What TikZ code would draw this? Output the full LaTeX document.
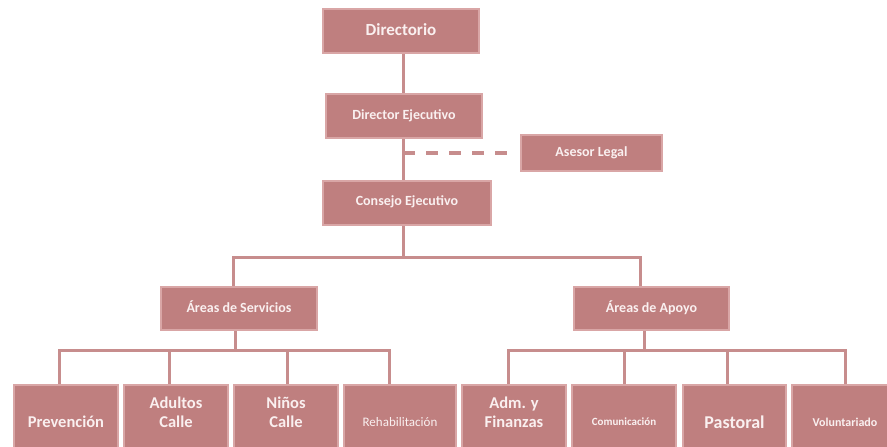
\documentclass[tikz,border=0pt]{standalone}
\usepackage{fontspec}
\setmainfont{Carlito}
\definecolor{boxfill}{HTML}{BF7F7F}
\definecolor{boxedge}{HTML}{D9A6A6}
\definecolor{linec}{HTML}{C78D8D}
\definecolor{txt}{HTML}{FAF0F0}
\newcommand{\twoline}[2]{\smash{\raisebox{3pt}{\begin{tabular}{@{}c@{}}#1\\#2\end{tabular}}}}
\tikzset{
  box/.style={draw=boxedge, line width=2.5pt, fill=boxfill, text=txt, font=\bfseries,
    inner sep=0pt, align=center},
  conn/.style={draw=linec, line width=3pt},
  dconn/.style={draw=linec, line width=3.5pt, dash pattern=on 12pt off 11pt},
}
\begin{document}
\begin{tikzpicture}[x=1pt,y=-1pt]
\clip (0,0) rectangle (887,447);
\fill[white] (0,0) rectangle (887,447);
% top chain
\node[box, minimum width=156pt, minimum height=44pt, font=\bfseries\fontsize{17}{19}\selectfont] (dir) at (401,31) {\raisebox{2pt}{Directorio}};
\node[box, minimum width=156pt, minimum height=44pt, font=\bfseries\fontsize{14}{16}\selectfont] (de) at (404,116) {\raisebox{3pt}{Director Ejecutivo}};
\node[box, minimum width=141pt, minimum height=36pt, font=\bfseries\fontsize{14}{16}\selectfont] (al) at (591.5,153) {\raisebox{1pt}{Asesor Legal}};
\node[box, minimum width=168pt, minimum height=44pt, font=\bfseries\fontsize{14}{16}\selectfont] (ce) at (407,203) {\raisebox{4pt}{Consejo Ejecutivo}};
\node[box, minimum width=156pt, minimum height=43pt, font=\bfseries\fontsize{14}{16}\selectfont] (as) at (239,308.5) {\raisebox{4pt}{Áreas de Servicios}};
\node[box, minimum width=155pt, minimum height=43pt, font=\bfseries\fontsize{14}{16}\selectfont] (ap) at (651.5,308.5) {\raisebox{4pt}{Áreas de Apoyo}};
% bottom boxes
\node[box, minimum width=104pt, minimum height=74pt, font=\bfseries\fontsize{16.5}{17}\selectfont] (b1) at (66,422) {Prevención};
\node[box, minimum width=104pt, minimum height=74pt, font=\bfseries\fontsize{16.5}{19}\selectfont] (b2) at (176,422) {\twoline{Adultos}{Calle}};
\node[box, minimum width=104pt, minimum height=74pt, font=\bfseries\fontsize{16.5}{19}\selectfont] (b3) at (286,422) {\twoline{Niños}{Calle}};
\node[box, minimum width=112pt, minimum height=74pt, font=\fontsize{13}{15}\selectfont] (b4) at (400,422) {Rehabilitación};
\node[box, minimum width=104pt, minimum height=74pt, font=\bfseries\fontsize{16.5}{19}\selectfont] (b5) at (514,422) {\twoline{Adm. y}{Finanzas}};
\node[box, minimum width=104pt, minimum height=74pt, font=\bfseries\fontsize{11}{13}\selectfont] (b6) at (624,422) {Comunicación};
\node[box, minimum width=103pt, minimum height=74pt, font=\bfseries\fontsize{18}{20}\selectfont] (b7) at (734.5,422) {Pastoral};
\node[box, minimum width=106pt, minimum height=74pt, font=\bfseries\fontsize{12}{14}\selectfont] (b8) at (845,422) {Voluntariado};
% connectors
\coordinate (j1) at (403,257);
\coordinate (j2) at (235,350);
\coordinate (j3) at (644,350);
\draw[conn] (dir.south -| j1) -- (de.north -| j1);
\draw[conn] (de.south -| j1) -- (ce.north -| j1);
\draw[dconn] (al.west -| j1) -- ([xshift=-10pt]al.west);
\draw[conn] (ce.south -| j1) -- (j1);
\draw[conn] (j1) -| ([xshift=-6pt]as.north);
\draw[conn] (j1) -| ([xshift=-11pt]ap.north);
\draw[conn] (as.south -| j2) -- (j2);
\draw[conn] (ap.south -| j3) -- (j3);
\draw[conn] (j2) -| ([xshift=-7pt]b1.north);
\draw[conn] (j2) -| ([xshift=-7pt]b2.north);
\draw[conn] (j2) -| ([xshift=1pt]b3.north);
\draw[conn] (j2) -| ([xshift=-11pt]b4.north);
\draw[conn] (j3) -| ([xshift=-6pt]b5.north);
\draw[conn] (j3) -| (b6.north);
\draw[conn] (j3) -| ([xshift=-7pt]b7.north);
\draw[conn] (j3) -| (b8.north);
\end{tikzpicture}
\end{document}
